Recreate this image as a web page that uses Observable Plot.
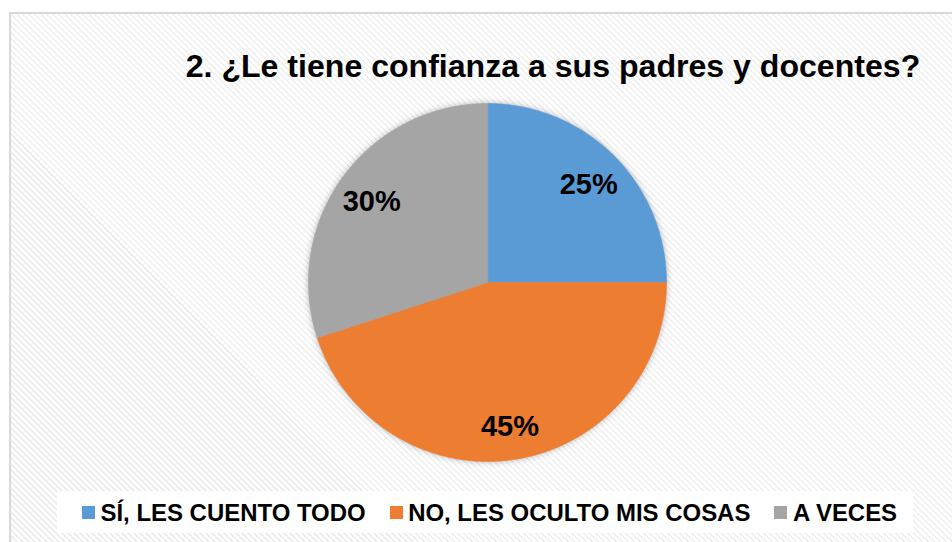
<!DOCTYPE html>
<html>
<head>
<meta charset="utf-8">
<script src="https://cdn.jsdelivr.net/npm/d3@7"></script>
<script src="https://cdn.jsdelivr.net/npm/@observablehq/plot@0.6"></script>
<style>
  html, body { margin: 0; padding: 0; background: #fff; width: 952px; height: 542px; overflow: hidden; }
  body { position: relative; font-family: "Liberation Sans", Arial, sans-serif; }
  #frame {
    position: absolute; left: 9px; top: 12px; width: 960px; height: 545px;
    box-sizing: border-box; border: 2px solid #d9d9d9;
    background: repeating-linear-gradient(45deg, #efefef 0px, #efefef 1.6px, #ffffff 1.6px, #ffffff 4.24px);
  }
  #title {
    position: absolute; top: 50.2px; left: 553px; transform: translateX(-50%);
    font-size: 32.1px; font-weight: bold; line-height: 1; white-space: nowrap; color: #000;
  }
  #chart { position: absolute; left: 11px; top: 92px; }
  #legendBox { position: absolute; left: 57px; top: 491px; width: 856px; height: 42px; background: #fff; }
  #legend { position: absolute; left: 82px; top: 500.6px; display: flex; align-items: flex-start; }
  .item { display: flex; align-items: flex-start; margin-right: 24px; font-size: 23.95px; font-weight: bold; line-height: 1; white-space: nowrap; color: #000; }
  .sw { width: 13px; height: 13px; margin-top: 5.4px; margin-right: 5.5px; flex: none; }
</style>
</head>
<body>
<div id="frame"></div>
<div id="title"></div>
<div id="chart"></div>
<div id="legendBox"></div>
<div id="legend"></div>
<script>
const title = "2. ¿Le tiene confianza a sus padres y docentes?";
const categories = ["SÍ, LES CUENTO TODO", "NO, LES OCULTO MIS COSAS", "A VECES"];
const values = [25, 45, 30];
const colors = ["#5B9BD5", "#ED7D31", "#A5A5A5"];

document.getElementById("title").textContent = title;

const data = categories.map((c, i) => ({category: c, value: values[i]}));
const arcs = d3.pie().sort(null).value(d => d.value)(data);
const total = d3.sum(values);

// polygon outline of each slice in unit-circle coordinates
const poly = [];
for (const a of arcs) {
  poly.push({category: a.data.category, x: 0, y: 0});
  const n = Math.max(2, Math.ceil((a.endAngle - a.startAngle) / (Math.PI / 360)));
  for (let k = 0; k <= n; k++) {
    const t = a.startAngle + (a.endAngle - a.startAngle) * k / n;
    poly.push({category: a.data.category, x: Math.sin(t), y: Math.cos(t)});
  }
}
const labelR = 0.8;
const labels = arcs.map(a => {
  const m = (a.startAngle + a.endAngle) / 2;
  return {x: labelR * Math.sin(m), y: labelR * Math.cos(m), text: Math.round(a.data.value / total * 100) + "%"};
});

const plot = Plot.plot({
  width: 941, height: 385,
  marginLeft: 297, marginRight: 286, marginTop: 11, marginBottom: 16,
  x: {domain: [-1, 1], axis: null},
  y: {domain: [-1, 1], axis: null},
  color: {domain: categories, range: colors},
  style: {background: "transparent", overflow: "visible"},
  marks: [
    Plot.line(poly, {x: "x", y: "y", z: "category", fill: "category", stroke: "category", strokeWidth: 0.6, curve: "linear-closed"}),
    Plot.text(labels, {x: "x", y: "y", text: "text", fontSize: 29, fontWeight: "bold", fill: "#000",
      fontFamily: "'Liberation Sans', Arial, sans-serif", dy: 3})
  ]
});
plot.querySelectorAll('g[aria-label="line"]').forEach(g => g.style.filter = "drop-shadow(0px 0px 3px rgba(0,0,0,0.28))");
document.getElementById("chart").appendChild(plot);

const legend = document.getElementById("legend");
categories.forEach((c, i) => {
  const it = document.createElement("div");
  it.className = "item";
  const sw = document.createElement("div");
  sw.className = "sw";
  sw.style.background = colors[i];
  const tx = document.createElement("span");
  tx.textContent = c;
  it.appendChild(sw); it.appendChild(tx);
  legend.appendChild(it);
});
</script>
</body>
</html>
